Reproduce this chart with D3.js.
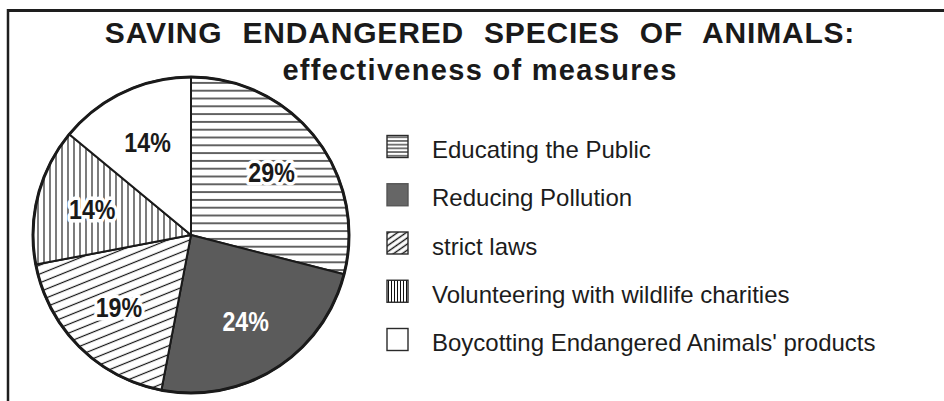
<!DOCTYPE html>
<html>
<head>
<meta charset="utf-8">
<script src="https://cdn.jsdelivr.net/npm/d3@7.9.0/dist/d3.min.js"></script>
<style>
  html, body { margin: 0; padding: 0; background: #fff; }
  svg { display: block; }
  text { font-family: "Liberation Sans", Arial, sans-serif; }
</style>
</head>
<body>
<svg id="chart" width="944" height="401"></svg>
<script>
// data
const categories = [
  'Educating the Public',
  'Reducing Pollution',
  'strict laws',
  'Volunteering with wildlife charities',
  "Boycotting Endangered Animals' products"
];
const shares = [29, 24, 19, 14, 14];
const shareLabels = ['29%', '24%', '19%', '14%', '14%'];

const titleLine1 = 'SAVING ENDANGERED SPECIES OF ANIMALS:';
const titleLine2 = 'effectiveness of measures';

const width = 944, height = 401;
const cx = 191, cy = 235, radius = 158;

const svg = d3.select('#chart');
const defs = svg.append('defs');

// hatch patterns
function linePattern(id, w, h, x1, y1, x2, y2, sw, rot) {
  const p = defs.append('pattern')
    .attr('id', id)
    .attr('patternUnits', 'userSpaceOnUse')
    .attr('width', w)
    .attr('height', h);
  if (rot) p.attr('patternTransform', `rotate(${rot})`);
  p.append('rect').attr('width', w).attr('height', h).attr('fill', '#fff');
  p.append('line')
    .attr('x1', x1).attr('y1', y1).attr('x2', x2).attr('y2', y2)
    .attr('stroke', '#111').attr('stroke-width', sw);
  return p;
}

linePattern('p-horiz', 10, 7.8, 0, 3.9, 10, 3.9, 1.3);
linePattern('p-diag', 10, 8.2, 0, 4.1, 10, 4.1, 1.2, -22);
linePattern('p-vert', 6, 10, 3, 0, 3, 10, 1.1);

// smaller ones for the legend boxes
linePattern('l-horiz', 10, 3.7, 0, 1.85, 10, 1.85, 1.1);
linePattern('l-diag', 10, 5, 0, 2.5, 10, 2.5, 1.4, -35);
linePattern('l-vert', 3, 10, 1.5, 0, 1.5, 10, 1);

const pieFill = d3.scaleOrdinal()
  .domain(categories)
  .range(['url(#p-horiz)', '#5b5b5b', 'url(#p-diag)', 'url(#p-vert)', '#fff']);
const legendFill = d3.scaleOrdinal()
  .domain(categories)
  .range(['url(#l-horiz)', '#666', 'url(#l-diag)', 'url(#l-vert)', '#fff']);

// frame, top and left only
svg.append('line')
  .attr('x1', 7).attr('x2', width).attr('y1', 10.5).attr('y2', 10.5)
  .attr('stroke', '#1e1e1e').attr('stroke-width', 3);
svg.append('line')
  .attr('x1', 8).attr('x2', 8).attr('y1', 9).attr('y2', height)
  .attr('stroke', '#1e1e1e').attr('stroke-width', 2.5);

// titles
svg.append('text')
  .attr('x', 480).attr('y', 43)
  .attr('text-anchor', 'middle')
  .attr('font-size', 30)
  .attr('font-weight', 'bold')
  .attr('fill', '#1a1a1a')
  .style('letter-spacing', '0.8px')
  .style('word-spacing', '11px')
  .text(titleLine1);

svg.append('text')
  .attr('x', 480).attr('y', 80)
  .attr('text-anchor', 'middle')
  .attr('font-size', 29)
  .attr('font-weight', 'bold')
  .attr('fill', '#1a1a1a')
  .style('letter-spacing', '1.3px')
  .text(titleLine2);

// pie
const data = categories.map((c, i) => ({ category: c, value: shares[i], label: shareLabels[i] }));
const pie = d3.pie().sort(null).value((d) => d.value);
const arcs = pie(data);
const arc = d3.arc().innerRadius(0).outerRadius(radius);
const labelArc = d3.arc().innerRadius(102).outerRadius(102);

const g = svg.append('g').attr('transform', `translate(${cx},${cy})`);

g.selectAll('path.slice')
  .data(arcs)
  .join('path')
  .attr('class', 'slice')
  .attr('d', arc)
  .attr('fill', (d) => pieFill(d.data.category))
  .attr('stroke', '#1a1a1a')
  .attr('stroke-width', 2)
  .attr('stroke-linejoin', 'round');

g.append('circle')
  .attr('r', radius)
  .attr('fill', 'none')
  .attr('stroke', '#1a1a1a')
  .attr('stroke-width', 3);

g.selectAll('text.pct')
  .data(arcs)
  .join('text')
  .attr('class', 'pct')
  .attr('transform', (d) => `translate(${labelArc.centroid(d)}) scale(0.86,1)`)
  .attr('text-anchor', 'middle')
  .attr('dy', '0.36em')
  .attr('font-size', 27)
  .attr('font-weight', 'bold')
  .attr('fill', (d) => d.data.category === 'Reducing Pollution' ? '#fff' : '#1a1a1a')
  .attr('stroke', (d) => d.data.category === 'Reducing Pollution' ? 'none' : '#fff')
  .attr('stroke-width', 7)
  .attr('stroke-linejoin', 'round')
  .attr('paint-order', 'stroke')
  .text((d) => d.data.label);

// legend
const legendY = d3.scalePoint()
  .domain(categories)
  .range([146.5, 339.5]);

const rows = svg.append('g').selectAll('g.row')
  .data(categories)
  .join('g')
  .attr('class', 'row')
  .attr('transform', (d) => `translate(387,${legendY(d)})`);

rows.append('rect')
  .attr('x', 0).attr('y', -11)
  .attr('width', 21).attr('height', 22)
  .attr('fill', (d) => legendFill(d))
  .attr('stroke', (d) => d === 'Reducing Pollution' ? '#555' : '#2a2a2a')
  .attr('stroke-width', 1.4);

rows.append('text')
  .attr('x', 45).attr('y', 11.5)
  .attr('font-size', 24)
  .attr('fill', '#1c1c1c')
  .text((d) => d);
</script>
</body>
</html>
